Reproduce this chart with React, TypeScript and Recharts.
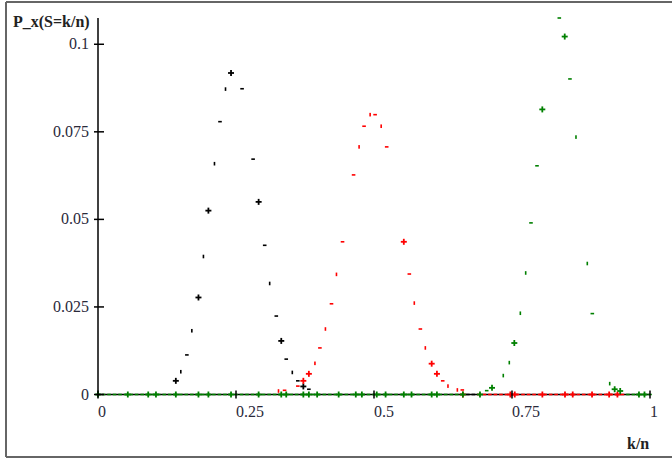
import React from "react";
import { Scatter, ScatterChart, XAxis, YAxis } from "recharts";

// values (x = k/n, y = probability)
const blackPlusX = [0.141, 0.182, 0.2, 0.241, 0.291, 0.332, 0.372];
const blackPlusY = [0.0039, 0.0277, 0.0525, 0.0918, 0.055, 0.0153, 0.0023];
const blackDashX = [
  0.15, 0.161, 0.17, 0.191, 0.211, 0.221, 0.231, 0.261, 0.281, 0.302, 0.311,
  0.323, 0.341, 0.352, 0.362, 0.382,
];
const blackDashY = [
  0.0065, 0.0113, 0.0182, 0.0394, 0.0659, 0.0779, 0.0872, 0.0873, 0.0672,
  0.0426, 0.0317, 0.0224, 0.0101, 0.0063, 0.0039, 0.0015,
];

const redPlusX = [0.372, 0.382, 0.554, 0.6045, 0.614];
const redPlusY = [0.0039, 0.0059, 0.0436, 0.0088, 0.0059];
const redDashX = [
  0.327, 0.338, 0.362, 0.393, 0.402, 0.412, 0.423, 0.432, 0.443, 0.463, 0.473,
  0.482, 0.493, 0.502, 0.513, 0.523, 0.564, 0.573, 0.584, 0.593, 0.6245, 0.634,
  0.651, 0.66,
];
const redDashY = [
  0.001, 0.0012, 0.0024, 0.0089, 0.0133, 0.0187, 0.0259, 0.0343, 0.0436,
  0.0627, 0.0707, 0.0766, 0.0799, 0.0799, 0.0766, 0.0707, 0.0344, 0.0261,
  0.0187, 0.0133, 0.0039, 0.0024, 0.0013, 0.0013,
];

const greenPlusX = [0.7138, 0.7542, 0.8049, 0.8455, 0.936, 0.946];
const greenPlusY = [0.0019, 0.0147, 0.0814, 0.1022, 0.0015, 0.001];
const greenDashX = [
  0.7042, 0.7342, 0.7451, 0.7651, 0.7748, 0.7844, 0.7953, 0.8357, 0.855,
  0.8659, 0.8864, 0.8955, 0.927,
];
const greenDashY = [
  0.0011, 0.0054, 0.0091, 0.0232, 0.0347, 0.049, 0.0653, 0.1075, 0.0901,
  0.0735, 0.0374, 0.0231, 0.0031,
];

// points sitting on the zero line
const blackZeroX = [0.67, 0.68];
const redZeroX = [
  0.69, 0.7, 0.71, 0.72, 0.73, 0.74, 0.75, 0.76, 0.77, 0.78, 0.79, 0.8, 0.81,
  0.82, 0.83, 0.84, 0.85, 0.86, 0.87, 0.88, 0.89, 0.9, 0.91, 0.92, 0.93, 0.94,
  0.95,
];
const redPlusZeroX = [0.661, 0.747, 0.755, 0.805, 0.846, 0.86, 0.895, 0.926, 0.941];
const greenZeroX = [
  0.0, 0.01, 0.02, 0.03, 0.04, 0.05, 0.06, 0.07, 0.08, 0.09, 0.1, 0.11, 0.12,
  0.13, 0.14, 0.15, 0.16, 0.17, 0.18, 0.19, 0.2, 0.21, 0.22, 0.23, 0.24, 0.25,
  0.26, 0.27, 0.28, 0.29, 0.3, 0.31, 0.32, 0.33, 0.34, 0.35, 0.36, 0.37, 0.38,
  0.39, 0.4, 0.41, 0.42, 0.43, 0.44, 0.45, 0.46, 0.47, 0.48, 0.49, 0.5, 0.51,
  0.52, 0.53, 0.54, 0.55, 0.56, 0.57, 0.58, 0.59, 0.6, 0.61, 0.62, 0.63, 0.64,
  0.65, 0.66, 0.96, 0.97, 0.98, 0.99, 1.0,
];
const greenPlusZeroX = [
  0.0, 0.054, 0.091, 0.105, 0.141, 0.182, 0.2, 0.241, 0.291, 0.332, 0.341,
  0.372, 0.382, 0.397, 0.436, 0.467, 0.478, 0.505, 0.521, 0.554, 0.568, 0.6045,
  0.614, 0.661, 0.692, 0.98, 0.99,
];

const xTicks = [0, 0.25, 0.5, 0.75, 1];
const yTicks = [0, 0.025, 0.05, 0.075, 0.1];

const BLACK = "#000000";
const RED = "#ff0000";
const GREEN = "#008000";
const FONT = "Liberation Serif";

const pts = (xs: number[], ys: number[]) => xs.map((x, i) => ({ x, y: ys[i] }));
const onZero = (xs: number[]) => xs.map((x) => ({ x, y: 0 }));

const plusShape = (color: string) => (props: any) => {
  const { cx, cy } = props;
  if (cx == null || cy == null) return <g />;
  return (
    <g>
      <line x1={cx - 3} x2={cx + 3} y1={cy} y2={cy} stroke={color} strokeWidth={1.8} />
      <line x1={cx} x2={cx} y1={cy - 3} y2={cy + 3} stroke={color} strokeWidth={1.8} />
    </g>
  );
};

const dashShape = (color: string) => (props: any) => {
  const { cx, cy, payload } = props;
  if (cx == null || cy == null) return <g />;
  // Mathcad's tiny point symbols show up as either short bars or ticks
  const vertical = payload && payload.y > 0 && Math.round(payload.x * 100) % 2 === 1;
  const w = vertical ? 1.6 : 3.6;
  const h = vertical ? 3.6 : 1.6;
  return <rect x={cx - w / 2} y={cy - h / 2} width={w} height={h} fill={color} />;
};

const XTick = (props: any) => {
  const { x, y, payload } = props;
  return (
    <g>
      <line x1={x} x2={x} y1={y - 4} y2={y + 4} stroke="#000" strokeWidth={1.5} />
      <text x={x} y={y + 22} textAnchor="start" fontSize={16} fontFamily={FONT} fill="#2a2a3a">
        {String(payload.value)}
      </text>
    </g>
  );
};

const YTick = (props: any) => {
  const { x, y, payload } = props;
  return (
    <g>
      <line x1={x - 4} x2={x + 6} y1={y} y2={y} stroke="#000" strokeWidth={1.5} />
      <text x={x - 9} y={y + 5} textAnchor="end" fontSize={16} fontFamily={FONT} fill="#2a2a3a">
        {String(payload.value)}
      </text>
    </g>
  );
};

const App: React.FC = () => {
  return (
    <div style={{ position: "absolute", left: 0, top: 0, width: 672, height: 459, background: "#fff" }}>
      <svg width={672} height={459} style={{ position: "absolute", left: 0, top: 0 }}>
        <line x1={6} y1={2} x2={672} y2={2} stroke="#666" strokeWidth={2} />
        <line x1={6} y1={2} x2={6} y2={457} stroke="#666" strokeWidth={2} />
        <line x1={6} y1={457} x2={672} y2={457} stroke="#666" strokeWidth={2} />
        <text x={13} y={27} fontSize={16} fontWeight="bold" fontFamily={FONT} fill="#222">
          P_x(S=k/n)
        </text>
        <text x={627} y={449} fontSize={16} fontWeight="bold" fontFamily={FONT} fill="#222">
          k/n
        </text>
      </svg>
      <div style={{ position: "absolute", left: 0, top: 0 }}>
        <ScatterChart
          width={672}
          height={459}
          margin={{ top: 18, right: 22, bottom: 34.5, left: 0 }}
        >
          <XAxis
            type="number"
            dataKey="x"
            domain={[0, 1]}
            ticks={xTicks}
            height={30}
            axisLine={{ stroke: "#000", strokeWidth: 1.5 }}
            tickLine={false}
            tickSize={0}
            tickMargin={0}
            tick={<XTick />}
          />
          <YAxis
            type="number"
            dataKey="y"
            domain={[0, 0.1075]}
            ticks={yTicks}
            width={98}
            axisLine={{ stroke: "#000", strokeWidth: 1.5 }}
            tickLine={false}
            tickSize={0}
            tickMargin={0}
            tick={<YTick />}
          />
          <Scatter data={onZero(blackZeroX)} shape={dashShape(BLACK)} isAnimationActive={false} />
          <Scatter data={pts(blackDashX, blackDashY)} shape={dashShape(BLACK)} isAnimationActive={false} />
          <Scatter data={pts(blackPlusX, blackPlusY)} shape={plusShape(BLACK)} isAnimationActive={false} />
          <Scatter data={onZero(redZeroX)} shape={dashShape(RED)} isAnimationActive={false} />
          <Scatter data={onZero(redPlusZeroX)} shape={plusShape(RED)} isAnimationActive={false} />
          <Scatter data={pts(redDashX, redDashY)} shape={dashShape(RED)} isAnimationActive={false} />
          <Scatter data={pts(redPlusX, redPlusY)} shape={plusShape(RED)} isAnimationActive={false} />
          <Scatter data={onZero(greenZeroX)} shape={dashShape(GREEN)} isAnimationActive={false} />
          <Scatter data={onZero(greenPlusZeroX)} shape={plusShape(GREEN)} isAnimationActive={false} />
          <Scatter data={pts(greenDashX, greenDashY)} shape={dashShape(GREEN)} isAnimationActive={false} />
          <Scatter data={pts(greenPlusX, greenPlusY)} shape={plusShape(GREEN)} isAnimationActive={false} />
        </ScatterChart>
      </div>
    </div>
  );
};

export default App;
